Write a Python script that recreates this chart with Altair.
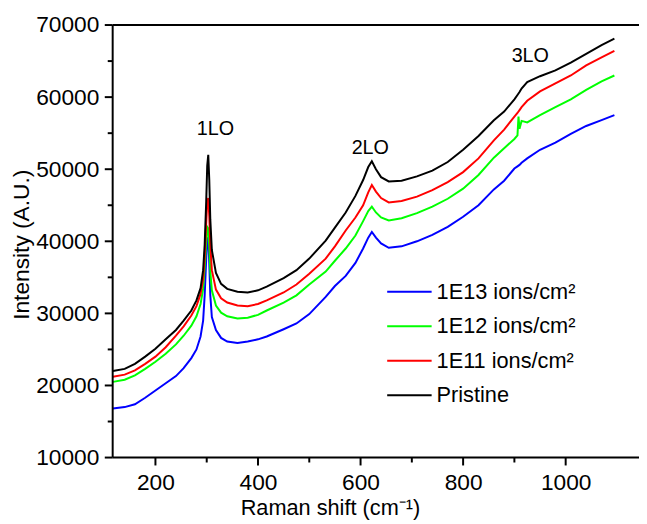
import altair as alt
import pandas as pd

# ---- data ----
raman_shift = [117, 140, 160, 180, 200, 220, 240, 255, 270, 280, 288, 293, 296, 299, 301, 303, 305, 307, 310,
               318, 328, 340, 360, 380, 400, 417, 450, 475, 500, 532, 550, 571, 590, 605, 615, 622, 630, 640,
               655, 680, 710, 740, 770, 800, 830, 860, 880, 900, 906, 908, 910, 914, 925, 950, 980, 1010,
               1040, 1070, 1095]

pristine = [22000, 22300, 23000, 24000, 25100, 26400, 27700, 29000, 30400, 31800, 33500, 36000, 39500, 45500,
            50500, 52000, 48500, 43000, 38800, 35600, 34100, 33400, 33000, 32900, 33200, 33700, 34900, 36000,
            37600, 40100, 41900, 44000, 46300, 48500, 50300, 51100, 50000, 48900, 48300, 48400, 49000, 49800,
            51000, 52700, 54600, 56800, 58000, 59700, 60300, 60500, 60700, 61200, 62100, 62900, 63700, 64800,
            66000, 67200, 68100]

ions_1e11 = [21200, 21500, 22100, 23000, 24000, 25300, 26900, 28200, 29700, 31000, 32700, 34800, 37800, 42500,
             45500, 46000, 43500, 39500, 36000, 33300, 32100, 31500, 31100, 31000, 31300, 31800, 32900, 34000,
             35500, 37600, 39300, 41500, 43300, 45000, 46800, 47800, 46900, 46000, 45400, 45600, 46200, 47100,
             48200, 49600, 51500, 54000, 55500, 57300, 57800, 58000, 58200, 58600, 59500, 60800, 61900, 63000,
             64400, 65500, 66400]

ions_1e12 = [20500, 20800, 21400, 22300, 23300, 24400, 25700, 26900, 28300, 29600, 31300, 33400, 36300, 40000,
             42000, 41800, 39200, 35800, 33200, 31100, 30100, 29600, 29300, 29400, 29800, 30400, 31500, 32500,
             34000, 35800, 37300, 39000, 40800, 42800, 44200, 44800, 44000, 43300, 42900, 43200, 43900, 44800,
             45900, 47300, 49200, 51600, 52900, 54200, 54700, 57300, 55600, 56700, 56500, 57500, 58600, 59700,
             61000, 62200, 63000]

ions_1e13 = [16800, 17000, 17400, 18300, 19300, 20300, 21300, 22400, 23800, 25000, 26800, 29000, 32500, 37500,
             40300, 40500, 37000, 32500, 29500, 27700, 26600, 26100, 25900, 26100, 26400, 26800, 27800, 28600,
             29900, 32300, 33800, 35200, 37000, 39000, 40500, 41300, 40500, 39700, 39100, 39300, 40000, 40900,
             42000, 43400, 45000, 47200, 48400, 50100, 50400, 50500, 50600, 50900, 51500, 52700, 53700, 54900,
             56000, 56800, 57500]

series_names = ["1E13 ions/cm²", "1E12 ions/cm²", "1E11 ions/cm²", "Pristine"]
series_colors = ["#0000FF", "#00FF00", "#FF0000", "#000000"]

peak_labels = ["1LO", "2LO", "3LO"]
peak_label_shift = [317, 619, 931]
peak_label_intensity = [55500, 53000, 65700]

x_ticks = [200, 400, 600, 800, 1000]
x_minor = [300, 500, 700, 900]
y_ticks = [10000, 20000, 30000, 40000, 50000, 60000, 70000]
y_minor = [15000, 25000, 35000, 45000, 55000, 65000]
x_min, x_max = 116.6, 1143
y_min, y_max = 10000, 70000

# ---- tables ----
rows = []
for name, vals in zip(series_names, [ions_1e13, ions_1e12, ions_1e11, pristine]):
    for s, v in zip(raman_shift, vals):
        rows.append({"series": name, "shift": s, "intensity": v})
df = pd.DataFrame(rows)
ann = pd.DataFrame({"label": peak_labels, "shift": peak_label_shift, "intensity": peak_label_intensity})
xmaj_df = pd.DataFrame({"shift": x_ticks, "k": "frame"})
xmin_df = pd.DataFrame({"shift": x_minor, "k": "frame"})
ymaj_df = pd.DataFrame({"intensity": y_ticks, "k": "frame"})
ymin_df = pd.DataFrame({"intensity": y_minor, "k": "frame"})
frame_df = pd.DataFrame({"k": ["frame"]})

FONT = "Liberation Sans"
W, H = 533, 438
xscale = alt.Scale(domain=[x_min, x_max], nice=False, zero=False)
yscale = alt.Scale(domain=[y_min, y_max], nice=False, zero=False)
cscale = alt.Scale(domain=series_names, range=series_colors)
BLACK = "#000000"
frame_stroke = alt.Stroke("k:N", scale=alt.Scale(domain=["frame"], range=[BLACK]), legend=None)

# axes: labels and titles only; axis lines and ticks drawn as rule layers below
x_axis = alt.Axis(values=x_ticks, format="d", title="Raman shift (cm⁻¹)", grid=False, domain=False, ticks=False,
                  labelFont=FONT, labelFontSize=23, labelColor=BLACK, labelPadding=14,
                  titleFont=FONT, titleFontSize=22, titleFontWeight="normal", titleColor=BLACK,
                  titleX=220, titleY=58, titleAlign="center", titleBaseline="alphabetic")
y_axis = alt.Axis(values=y_ticks, format="d", title="Intensity (A.U.)", grid=False, domain=False, ticks=False,
                  labelFont=FONT, labelFontSize=23, labelColor=BLACK, labelPadding=14,
                  titleFont=FONT, titleFontSize=23, titleFontWeight="normal", titleColor=BLACK,
                  titleX=-92, titleY=222, titleAngle=270, titleAlign="center", titleBaseline="middle")

series_legend = alt.Legend(orient="none", legendX=277, legendY=246.5, title=None, padding=0, offset=0,
                           symbolType="stroke", symbolSize=2025, symbolStrokeWidth=2, symbolOffset=0,
                           labelFont=FONT, labelFontSize=22, labelColor=BLACK, labelOffset=4, labelLimit=300,
                           rowPadding=-15)

lines = alt.Chart(df).mark_line(strokeWidth=2).encode(
    x=alt.X("shift:Q", scale=xscale, axis=x_axis),
    y=alt.Y("intensity:Q", scale=yscale, axis=y_axis),
    color=alt.Color("series:N", scale=cscale, legend=series_legend),
)

x_major_ticks = alt.Chart(xmaj_df).mark_rule(strokeWidth=2).encode(
    x=alt.X("shift:Q", scale=xscale), y=alt.value(H), y2=alt.value(H + 8), stroke=frame_stroke)
x_minor_ticks = alt.Chart(xmin_df).mark_rule(strokeWidth=2).encode(
    x=alt.X("shift:Q", scale=xscale), y=alt.value(H), y2=alt.value(H + 5), stroke=frame_stroke)
y_major_ticks = alt.Chart(ymaj_df).mark_rule(strokeWidth=2).encode(
    y=alt.Y("intensity:Q", scale=yscale), x=alt.value(-8), x2=alt.value(0), stroke=frame_stroke)
y_minor_ticks = alt.Chart(ymin_df).mark_rule(strokeWidth=2).encode(
    y=alt.Y("intensity:Q", scale=yscale), x=alt.value(-5), x2=alt.value(0), stroke=frame_stroke)

left_line = alt.Chart(frame_df).mark_rule(strokeWidth=2).encode(
    x=alt.value(0), y=alt.value(0), y2=alt.value(H), stroke=frame_stroke)
bottom_line = alt.Chart(frame_df).mark_rule(strokeWidth=2).encode(
    x=alt.value(0), x2=alt.value(W), y=alt.value(H), stroke=frame_stroke)
top_line = alt.Chart(frame_df).mark_rule(strokeWidth=2).encode(
    x=alt.value(0), x2=alt.value(W), y=alt.value(0), stroke=frame_stroke)

annots = alt.Chart(ann).mark_text(font=FONT, fontSize=20, baseline="middle").encode(
    x=alt.X("shift:Q", scale=xscale),
    y=alt.Y("intensity:Q", scale=yscale),
    text="label:N",
    color=alt.value(BLACK),
)

chart = alt.layer(lines, x_major_ticks, x_minor_ticks, y_major_ticks, y_minor_ticks,
                  left_line, bottom_line, top_line, annots).properties(
    width=W, height=H,
    autosize=alt.AutoSizeParams(type="none"),
    padding={"left": 106, "top": 14, "right": 0, "bottom": 62},
).configure_view(stroke=None)

chart.save("out.html", embed_options={"renderer": "svg", "actions": False})
